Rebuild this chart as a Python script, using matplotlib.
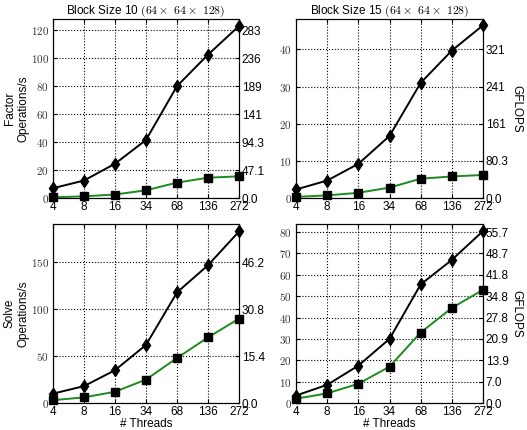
import matplotlib
matplotlib.use('Agg')
import matplotlib.pyplot as plt

plt.rcParams['font.family'] = ['Liberation Sans', 'DejaVu Sans']
plt.rcParams['mathtext.fontset'] = 'cm'

threads = ['4', '8', '16', '34', '68', '136', '272']

# block size 10, factor
f10_black = [7, 12.5, 24.5, 41.5, 80, 102.5, 123]
f10_green = [0.5, 1.2, 2.5, 5.5, 11, 14.5, 15.5]
# block size 15, factor
f15_black = [2.3, 4.7, 9.2, 16.7, 31, 39.7, 46.5]
f15_green = [0.3, 0.7, 1.4, 2.8, 5.2, 5.8, 6.2]
# block size 10, solve
s10_black = [10, 18, 35, 62, 118, 147, 183]
s10_green = [3, 6, 12, 25, 48, 70, 90]
# block size 15, solve
s15_black = [3.5, 8.5, 17.5, 30, 55.5, 67, 80.5]
s15_green = [2, 4.5, 9, 17, 33, 44.5, 53]

# GFLOPS per operation/s for right axis
gflop_factor = [2.357, 8.03, 0.308, 0.696]
ylims = [128, 48.2, 191, 83.8]
yticks = [range(0, 121, 20), range(0, 41, 10), range(0, 151, 50), range(0, 81, 10)]

series = [(f10_black, f10_green), (f15_black, f15_green),
          (s10_black, s10_green), (s15_black, s15_green)]

positions = [[53, 19, 239, 198], [296, 19, 483, 198],
             [53, 224, 239, 403], [296, 224, 483, 403]]

W, H = 527, 430
fig = plt.figure(figsize=(W / 100, H / 100), dpi=100)

green = '#1c8c1c'

def fmt(v):
    if v < 99.95:
        return '%.1f' % v
    return '%.0f' % v

for i in range(4):
    x0, y0, x1, y1 = positions[i]
    ax = fig.add_axes([x0 / W, 1 - y1 / H, (x1 - x0) / W, (y1 - y0) / H])
    xs = range(len(threads))
    blk, grn = series[i]
    ax.plot(xs, grn, color=green, lw=1.4, marker='s', ms=5.5,
            mfc='black', mec='black', zorder=3, clip_on=False)
    ax.plot(xs, blk, color='black', lw=1.4, marker='d', ms=6.5,
            mfc='black', mec='black', zorder=4, clip_on=False)
    ax.set_xlim(0, 6)
    ax.set_ylim(0, ylims[i])
    ax.set_xticks(list(xs))
    ax.set_xticklabels(threads, fontsize=8.5)
    ax.set_yticks(list(yticks[i]))
    ax.set_yticklabels(['$%d$' % v for v in yticks[i]], fontsize=8, color='#333333')
    ax.grid(True, color='black', ls=':', lw=0.8)
    ax.tick_params(direction='in', length=3, top=True)
    ax.tick_params(axis='x', pad=2)
    ax.tick_params(axis='y', pad=3)
    for s in ax.spines.values():
        s.set_linewidth(0.8)

    ax2 = ax.twinx()
    ax2.set_ylim(0, ylims[i])
    ax2.set_yticks(list(yticks[i]))
    ax2.set_yticklabels([fmt(v * gflop_factor[i]) for v in yticks[i]], fontsize=8.5)
    ax2.tick_params(direction='in', length=3, pad=2)

    if i < 2:
        bs = '10' if i == 0 else '15'
        ax.set_title('Block Size ' + bs + r' $(64\times\ 64\times\ 128)$', fontsize=8.5, pad=4)
    else:
        ax.set_xlabel('# Threads', fontsize=8.5)
        ax.xaxis.set_label_coords(0.5, -0.085)
    if i == 0:
        ax.set_ylabel('Factor\nOperations/s', fontsize=8.5)
        ax.yaxis.set_label_coords(-0.125, 0.5)
    if i == 2:
        ax.set_ylabel('Solve\nOperations/s', fontsize=8.5)
        ax.yaxis.set_label_coords(-0.125, 0.5)
    if i in (1, 3):
        ax2.set_ylabel('GFLOPS', fontsize=8.5, rotation=270, labelpad=10)

fig.savefig('out.png', dpi=100)
